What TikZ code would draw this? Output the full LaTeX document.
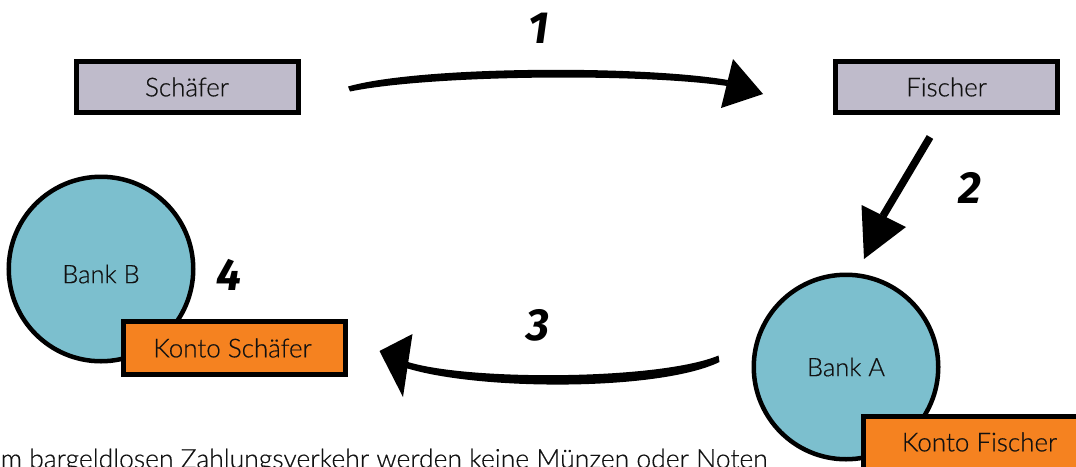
\documentclass[tikz,border=0pt]{standalone}
\usepackage{fontspec}
\setmainfont{Lato Light}[RawFeature={embolden=0.5}]
\newfontfamily\numfont{Fira Sans}[Scale=1]
\definecolor{boxgrey}{HTML}{BFBBCB}
\definecolor{bankblue}{HTML}{7CBFCE}
\definecolor{kontoorange}{HTML}{F58220}
\definecolor{inktext}{HTML}{111111}
\tikzset{
  person/.style={draw=black,line width=5pt,fill=boxgrey,minimum width=222pt,minimum height=51pt,inner sep=0pt,text=inktext,font=\fontsize{26}{30}\selectfont},
  bank/.style={circle,draw=black,line width=4.5pt,fill=bankblue,minimum size=184.5pt,inner sep=0pt},
  banktext/.style={text=inktext,font=\fontsize{25.5}{30}\selectfont},
  konto/.style={draw=black,line width=5pt,fill=kontoorange,inner sep=0pt,text=inktext,font=\fontsize{26}{30}\selectfont},
  kontotext/.style={text=inktext,font=\fontsize{26}{30}\selectfont},
  stepnum/.style={inner sep=0pt,font=\numfont\bfseries\itshape\fontsize{45}{48}\selectfont},
  swoosh/.style={fill=black,draw=none},
  head/.style={fill=black,draw=none}
}
\begin{document}
\begin{tikzpicture}[x=1pt,y=-1pt]
\useasboundingbox (0,0) rectangle (1076,466);
\clip (0,0) rectangle (1076,466);
\node[person] (schaefer) at (187,87) {Schäfer};
\node[person] (fischer) at (946.5,87) {Fischer};
\node[bank] (bankB) at (101,269) {};
\node[banktext] (bankBt) at (101,274) {Bank B};
\node[bank] (bankA) at (846,367) {};
\node[banktext] (bankAt) at (846,367) {Bank A};
\node[konto,minimum width=222pt,minimum height=53pt] (kontoS) at (234.5,348) {};
\node[konto,minimum width=240pt,minimum height=80pt,anchor=north west] (kontoF) at (861,414) {};
\node[kontotext] (kontoFt) at (979.5,442) {Konto Fischer};
\node[kontotext] (kontoSl) at (232.5,348) {Konto Schäfer};
\node[anchor=base east,text=inktext,font=\fontsize{26.5}{30}\selectfont] (caption) at (771,468) {Im bargeldlosen Zahlungsverkehr werden keine Münzen oder Noten};
\node[stepnum] (n1) at (539,28) {1};
\node[stepnum] (n2) at (970,188) {2};
\node[stepnum] (n3) at (538,325) {3};
\node[stepnum] (n4) at (229,275) {4};
% arrow 1
\coordinate (a1s) at (349,89);
\coordinate (a1e) at (728,84);
\fill[swoosh] (a1s) ++(-1,-2.5) .. controls (420,66) and (640,65) .. (728,80)
  -- (727,86) .. controls (640,73) and (430,75) .. (350,91.5) -- cycle;
\fill[head] (733,59) -- (763,94) -- (721,108) -- cycle;
% arrow 2
\coordinate (a2s) at (930,137);
\coordinate (a2e) at (883,216);
\draw[line width=7.5pt] (a2s) -- (a2e);
\fill[head] (861.5,205) -- (906,227) -- (864,259) -- cycle;
% arrow 3
\coordinate (a3s) at (719,359);
\coordinate (a3e) at (408,367);
\fill[swoosh] (718.5,355.5) .. controls (660,380) and (470,381) .. (408,362)
  -- (406,368) .. controls (480,391) and (660,391) .. (719.5,362) -- cycle;
\fill[head] (379.5,351) -- (412.5,334) -- (403,397) -- cycle;
\end{tikzpicture}
\end{document}
